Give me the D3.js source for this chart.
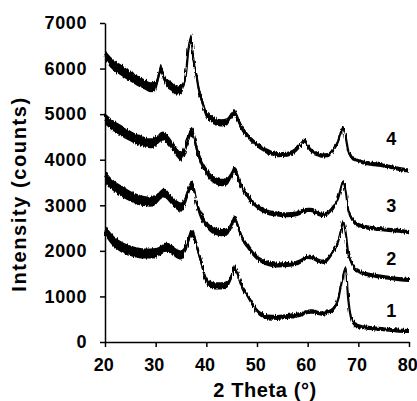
<!DOCTYPE html>
<html>
<head>
<meta charset="utf-8">
<script src="https://cdn.jsdelivr.net/npm/d3@7"></script>
<style>
  html, body { margin: 0; padding: 0; background: #fff; }
  svg { display: block; }
  text { font-family: "Liberation Sans", Arial, sans-serif; font-weight: bold; fill: #000; }
</style>
</head>
<body>
<svg id="chart" width="417" height="401"></svg>
<script>
// 2-theta sampling angles (degrees)
const angles = [20,21,22,23,24,25,26,27,28,29,30,30.5,31,31.5,32,33,34,35,35.5,36,36.5,37,37.5,38,38.5,39,
  40,41,42,43,44,45,45.5,46,46.5,47,48,49,50,51,52,54,56,58,59,59.5,60,61,62,63,64,65,66,66.5,67,67.5,68,68.5,69,
  70,72,74,76,78,80];

// Intensity (counts), one array per pattern
const pattern1 = [2450,2300,2180,2100,2040,2000,1970,1950,1940,1940,1950,1980,2010,2050,2080,2050,1950,1910,1960,2080,2250,2380,2350,2150,1950,1750,
  1350,1250,1230,1230,1260,1450,1620,1560,1380,1220,1050,850,680,590,550,540,560,590,620,640,660,670,640,620,650,720,930,1200,1450,1620,950,560,420,
  350,310,290,270,250,240];
const pattern2 = [3650,3500,3400,3330,3260,3200,3150,3110,3090,3080,3120,3170,3230,3270,3250,3130,3020,2960,3020,3150,3320,3440,3380,3100,2900,2760,
  2580,2470,2420,2400,2410,2580,2700,2620,2450,2300,2120,1970,1850,1780,1730,1690,1700,1740,1800,1840,1870,1850,1790,1760,1820,1980,2200,2420,2640,2400,1950,1780,1660,
  1560,1480,1440,1410,1380,1360];
const pattern3 = [4900,4800,4720,4650,4580,4520,4460,4420,4380,4360,4400,4450,4500,4520,4480,4350,4180,4080,4150,4300,4480,4620,4550,4280,4100,3950,
  3750,3600,3530,3500,3520,3680,3780,3700,3530,3400,3230,3080,2980,2900,2850,2810,2790,2820,2870,2890,2900,2890,2820,2790,2830,2960,3150,3350,3520,3300,2900,2750,2650,
  2570,2510,2480,2460,2440,2410];
const pattern4 = [6300,6150,6050,5980,5900,5830,5760,5700,5640,5590,5620,5800,6000,5850,5720,5620,5530,5550,5650,5900,6450,6650,6150,5880,5550,5350,
  5000,4900,4830,4810,4830,4980,5040,4950,4820,4700,4550,4420,4330,4250,4190,4110,4120,4250,4380,4420,4300,4170,4120,4090,4100,4220,4400,4580,4700,4500,4200,4080,4020,
  3970,3920,3890,3850,3800,3760];

// Half-width of the noise band (counts) at each angle
const noise = [120,120,120,120,120,115,115,115,110,110,110,100,100,100,100,100,100,100,100,100,100,100,100,95,95,95,
  80,80,80,80,80,75,75,75,75,75,60,60,55,55,55,55,55,55,48,48,48,48,48,48,48,48,48,48,48,48,48,48,48,
  45,45,45,45,45,45];

const seriesNames = ["1","2","3","4"];
const seriesValues = [pattern1, pattern2, pattern3, pattern4];
// Where each pattern's number label sits (angle, counts)
const labelAngles = [76.5, 76.5, 76.5, 76.5];
const labelCounts = [700, 1830, 2990, 4460];

const xTicks = [20,30,40,50,60,70,80];
const yTicks = [0,1000,2000,3000,4000,5000,6000,7000];
const xTitle = "2 Theta (°)";
const yTitle = "Intensity (counts)";

const svg = d3.select("#chart");
const x = d3.scaleLinear().domain([20, 80]).range([105, 409]);
const y = d3.scaleLinear().domain([0, 7000]).range([342, 23]);

// Rough edge texture for the noisy patterns (style only)
const defs = svg.append("defs");
const f = defs.append("filter").attr("id", "rough")
  .attr("x", "-2%").attr("y", "-5%").attr("width", "104%").attr("height", "110%");
f.append("feTurbulence").attr("type", "fractalNoise").attr("baseFrequency", "0.9 0.12")
  .attr("numOctaves", 1).attr("seed", 4).attr("result", "t");
f.append("feDisplacementMap").attr("in", "SourceGraphic").attr("in2", "t")
  .attr("scale", 4).attr("xChannelSelector", "R").attr("yChannelSelector", "G");

// Patterns
const band = d3.area()
  .x((d, i) => x(angles[i]))
  .y0(d => y(d.v - d.n))
  .y1(d => y(d.v + d.n))
  .curve(d3.curveMonotoneX);
const line = d3.line()
  .x((d, i) => x(angles[i]))
  .y(d => y(d.v))
  .curve(d3.curveMonotoneX);

const g = svg.append("g").attr("filter", "url(#rough)");
seriesValues.forEach(vals => {
  const pts = vals.map((v, i) => ({ v: v, n: noise[i] }));
  g.append("path").attr("d", band(pts)).attr("fill", "#000");
  g.append("path").attr("d", line(pts)).attr("fill", "none")
    .attr("stroke", "#000").attr("stroke-width", 2.2);
});

// Axes
const xAxis = svg.append("g").attr("transform", "translate(0,342)")
  .call(d3.axisBottom(x).tickValues(xTicks).tickFormat(d3.format("d")).tickSize(5).tickPadding(11).tickSizeOuter(0));
const yAxis = svg.append("g").attr("transform", "translate(105,0)")
  .call(d3.axisLeft(y).tickValues(yTicks).tickFormat(d3.format("d")).tickSize(5).tickPadding(13).tickSizeOuter(0));
[xAxis, yAxis].forEach(a => {
  a.selectAll("path, line").attr("stroke", "#000").attr("stroke-width", 1.5);
  a.selectAll("text").attr("font-size", 18).attr("font-family", null).attr("fill", "#000");
});
xAxis.selectAll("text").attr("dx", -1.8);
yAxis.selectAll("text").attr("letter-spacing", 0.6);

// Titles
svg.append("text").attr("x", 265).attr("y", 397).attr("text-anchor", "middle")
  .attr("font-size", 20).attr("letter-spacing", 0.6).text(xTitle);
svg.append("text").attr("transform", "translate(26,194) rotate(-90)").attr("text-anchor", "middle")
  .attr("font-size", 20).attr("letter-spacing", 1.6).text(yTitle);

// Pattern labels
seriesNames.forEach((name, i) => {
  svg.append("text").attr("x", x(labelAngles[i])).attr("y", y(labelCounts[i]))
    .attr("dy", "0.36em").attr("text-anchor", "middle").attr("font-size", 18).text(name);
});
</script>
</body>
</html>
